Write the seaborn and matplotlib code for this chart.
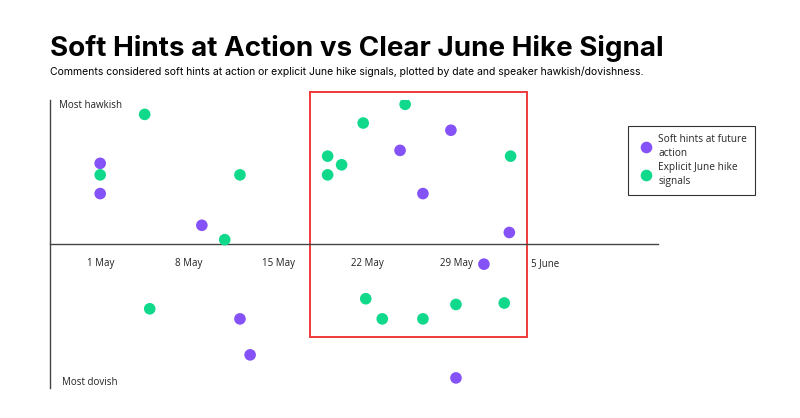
import numpy as np
import pandas as pd
import matplotlib
matplotlib.use("Agg")
import matplotlib.pyplot as plt
import matplotlib.dates as mdates
import matplotlib.patches as patches
import seaborn as sns

# soft hints at future action (days after 1 May, hawkish score -1..1)
soft_days = [0.0, 0.0, 8.0, 11.0, 11.8, 23.6, 25.4, 27.6, 32.2, 30.2, 28.0]
soft_score = [0.56, 0.35, 0.13, -0.52, -0.77, 0.65, 0.35, 0.79, 0.08, -0.14, -0.93]

# explicit June hike signals
hike_days = [3.5, 0.0, 11.0, 9.8, 3.9, 17.9, 19.0, 17.9, 20.7, 24.0, 32.3,
             20.9, 22.2, 25.4, 28.0, 31.8]
hike_score = [0.90, 0.48, 0.48, 0.03, -0.45, 0.61, 0.55, 0.48, 0.84, 0.97, 0.61,
              -0.38, -0.52, -0.52, -0.42, -0.41]

tick_labels = ["1 May", "8 May", "15 May", "22 May", "29 May", "5 June"]
start = pd.Timestamp("2023-05-01")

df = pd.DataFrame({
    "date": [start + pd.Timedelta(days=d) for d in soft_days + hike_days],
    "score": soft_score + hike_score,
    "kind": ["Soft hints at future\naction"] * len(soft_days)
            + ["Explicit June hike\nsignals"] * len(hike_days),
})

sns.set_style("white")
plt.rcParams["font.family"] = ["Open Sans", "DejaVu Sans"]

fig = plt.figure(figsize=(8, 4.18), dpi=100)
ax = fig.add_axes([0.0625, 0.0718, 0.76, 0.689])

sns.scatterplot(data=df, x="date", y="score", hue="kind",
                palette=["#8452f7", "#10d98c"], s=70, linewidth=0, ax=ax,
                zorder=3)

ax.set_xlim(start - pd.Timedelta(days=3.95), start + pd.Timedelta(days=43.9))
ax.set_ylim(-1, 1)

# highlight box
x0 = mdates.date2num(start + pd.Timedelta(days=16.55))
x1 = mdates.date2num(start + pd.Timedelta(days=33.6))
ax.add_patch(patches.Rectangle((x0, -0.646), x1 - x0, 1.702, fill=False,
                               edgecolor="#f03a3a", linewidth=1.4,
                               clip_on=False, zorder=2))

# axes through zero
for s in ["top", "right"]:
    ax.spines[s].set_visible(False)
ax.spines["bottom"].set_position(("data", 0))
ax.spines["bottom"].set_color("#444444")
ax.spines["left"].set_color("#444444")
ax.spines["bottom"].set_linewidth(1)
ax.spines["left"].set_linewidth(1)

ticks = [start + pd.Timedelta(days=7 * i) for i in range(len(tick_labels))]
ax.set_xticks(ticks)
ax.set_xticklabels(tick_labels, fontsize=7, color="#222222")
ax.tick_params(axis="x", length=0, pad=10)
ax.set_yticks([])
ax.set_xlabel("")
ax.set_ylabel("")

ax.text(0.014, 0.98, "Most hawkish", transform=ax.transAxes, fontsize=7,
        color="#222222", va="center")
ax.text(0.02, 0.02, "Most dovish", transform=ax.transAxes, fontsize=7,
        color="#222222", va="center")

leg = ax.legend(loc="upper left", bbox_to_anchor=(0.946, 0.92), fontsize=7.3,
                frameon=True, fancybox=False, edgecolor="black",
                handletextpad=0.2, labelspacing=0.25, borderpad=0.75,
                borderaxespad=0.3, markerscale=1.0)
leg.get_frame().set_linewidth(0.8)
for t in leg.get_texts():
    t.set_linespacing(1.45)

fig.text(0.0625, 0.866, "Soft Hints at Action vs Clear June Hike Signal",
         fontsize=20, fontweight="bold", color="black", family="Inter")
fig.text(0.0625, 0.82, "Comments considered soft hints at action or explicit "
         "June hike signals, plotted by date and speaker hawkish/dovishness.",
         fontsize=7.5, color="black", family="Inter")

fig.savefig("out.png", dpi=100)
